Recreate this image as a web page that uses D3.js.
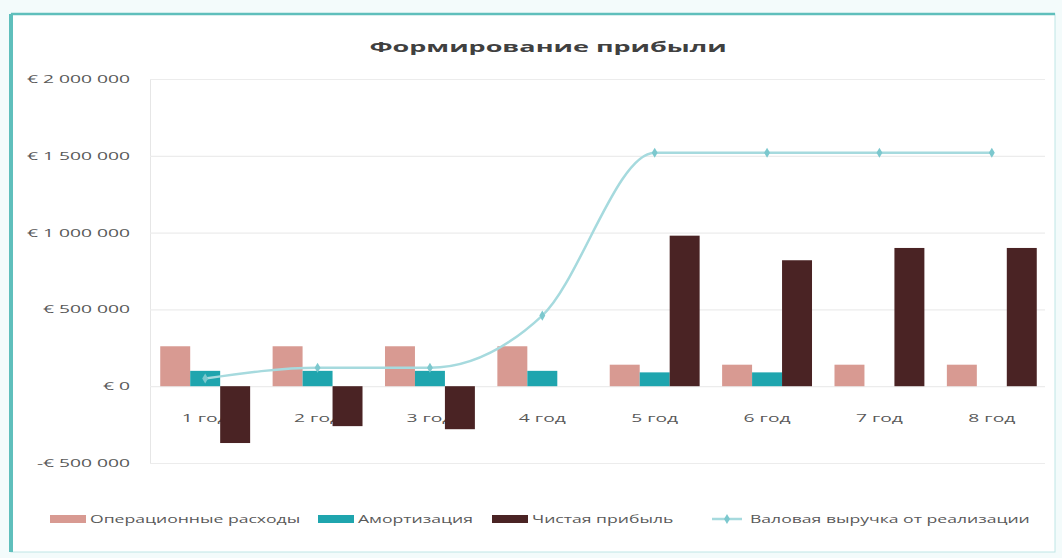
<!DOCTYPE html>
<html>
<head>
<meta charset="utf-8">
<script src="https://cdn.jsdelivr.net/npm/d3@7"></script>
<style>
  html, body { margin: 0; padding: 0; background: #f3fbfb; }
  svg { display: block; }
  text { font-family: "Open Sans", "Liberation Sans", sans-serif; }
</style>
</head>
<body>
<svg id="chart" width="1062" height="558"></svg>
<script>
// Categories and series
const years = ["1 год", "2 год", "3 год", "4 год", "5 год", "6 год", "7 год", "8 год"];
const opex = [260000, 260000, 260000, 260000, 140000, 140000, 140000, 140000];
const amort = [100000, 100000, 100000, 100000, 90000, 90000, 0, 0];
const netProfit = [-370000, -260000, -280000, 0, 980000, 820000, 900000, 900000];
const revenue = [50000, 120000, 120000, 460000, 1520000, 1520000, 1520000, 1520000];
const yTicks = [-500000, 0, 500000, 1000000, 1500000, 2000000];
const barSeries = ["Операционные расходы", "Амортизация", "Чистая прибыль"];
const lineSeries = "Валовая выручка от реализации";
const title = "Формирование прибыли";

const colors = {
  "Операционные расходы": "#d89a92",
  "Амортизация": "#1fa5ae",
  "Чистая прибыль": "#4a2324",
  line: "#a6dade",
  marker: "#7cc8ce"
};

// Text is drawn horizontally widened
const stretchAxis = 1.75, stretchLegend = 1.6, stretchTitle = 1.8;
function widen(sel, s) {
  sel.each(function () {
    const t = d3.select(this);
    const x0 = +(t.attr("x") || 0);
    t.attr("x", x0 / s).attr("transform", `scale(${s},1)`);
  });
}

const svg = d3.select("#chart");

// Chart frame
svg.append("rect").attr("x", 11).attr("y", 14).attr("width", 1044).attr("height", 538)
  .attr("fill", "#ffffff").attr("stroke", "#bfe6e6").attr("stroke-width", 1);
svg.append("line").attr("x1", 11).attr("x2", 1055).attr("y1", 14).attr("y2", 14)
  .attr("stroke", "#5fbfbc").attr("stroke-width", 2.5);
svg.append("line").attr("x1", 11).attr("x2", 11).attr("y1", 14).attr("y2", 552)
  .attr("stroke", "#5fbfbc").attr("stroke-width", 4);

// Scales
const x = d3.scaleBand().domain(years).range([149, 1048]).paddingInner(0.2).paddingOuter(0.1);
const xs = d3.scaleBand().domain(barSeries).range([0, x.bandwidth()]).padding(0);
const y = d3.scaleLinear().domain([-500000, 2000000]).range([463, 79]);

const loc = d3.formatLocale({ decimal: ",", thousands: " ", grouping: [3], currency: ["€ ", ""] });
const fmtNum = loc.format(",.0f");
const fmt = v => (v < 0 ? "-€ " : "€ ") + fmtNum(Math.abs(v));

// Gridlines and y axis labels
const yAxis = d3.axisLeft(y).tickValues(yTicks).tickFormat(fmt).tickSize(-(1045 - 150)).tickPadding(20);
const gy = svg.append("g").attr("transform", "translate(150,0)").call(yAxis);
gy.select(".domain").attr("stroke", "#e6e6e6");
gy.selectAll(".tick line").attr("stroke", "#ececec").attr("stroke-width", 1.2);
gy.selectAll(".tick text").attr("fill", "#595959").attr("font-size", 11).call(widen, stretchAxis);

// Category labels beside the zero line
const xAxis = d3.axisBottom(x).tickSize(0).tickPadding(28);
const gx = svg.append("g").attr("transform", `translate(0,${y(0)})`).call(xAxis);
gx.select(".domain").remove();
gx.selectAll(".tick text").attr("fill", "#595959").attr("font-size", 11).call(widen, stretchAxis);

// Bars
const barData = years.map((yr, i) => ({
  yr,
  vals: [
    { s: barSeries[0], v: opex[i] },
    { s: barSeries[1], v: amort[i] },
    { s: barSeries[2], v: netProfit[i] }
  ]
}));
const groups = svg.append("g").selectAll("g").data(barData).join("g")
  .attr("transform", d => `translate(${x(d.yr)},0)`);
groups.selectAll("rect").data(d => d.vals.filter(e => e.v !== 0)).join("rect")
  .attr("x", d => xs(d.s))
  .attr("width", xs.bandwidth())
  .attr("y", d => y(Math.max(0, d.v)))
  .attr("height", d => Math.abs(y(d.v) - y(0)))
  .attr("fill", d => colors[d.s]);

// Revenue line
const pts = years.map((yr, i) => [x(yr) + x.bandwidth() / 2, y(revenue[i])]);
svg.append("path").datum(pts)
  .attr("d", d3.line().curve(d3.curveMonotoneX))
  .attr("fill", "none").attr("stroke", colors.line).attr("stroke-width", 2.5);
svg.append("g").selectAll("path").data(pts).join("path")
  .attr("transform", d => `translate(${d[0]},${d[1]})`)
  .attr("d", d3.symbol(d3.symbolDiamond, 30))
  .attr("fill", colors.marker);

// Title
svg.append("text").attr("x", 548).attr("y", 52).attr("text-anchor", "middle")
  .attr("font-size", 15).attr("font-weight", "bold").attr("fill", "#404040").text(title)
  .call(widen, stretchTitle);

// Legend
const legendY = 519;
const legendItems = [
  { name: barSeries[0], x: 50, type: "bar" },
  { name: barSeries[1], x: 318, type: "bar" },
  { name: barSeries[2], x: 492, type: "bar" },
  { name: lineSeries, x: 712, type: "line" }
];
const lg = svg.append("g").selectAll("g").data(legendItems).join("g")
  .attr("transform", d => `translate(${d.x},${legendY})`);
lg.filter(d => d.type === "bar").append("rect")
  .attr("x", 0).attr("y", -4).attr("width", 36).attr("height", 8)
  .attr("fill", d => colors[d.name]);
lg.filter(d => d.type === "line").append("line")
  .attr("x1", 0).attr("x2", 30).attr("y1", 0).attr("y2", 0)
  .attr("stroke", colors.line).attr("stroke-width", 2.5);
lg.filter(d => d.type === "line").append("path")
  .attr("transform", "translate(15,0)")
  .attr("d", d3.symbol(d3.symbolDiamond, 30)).attr("fill", colors.marker);
lg.append("text").attr("x", d => d.type === "line" ? 38 : 40).attr("y", 4)
  .attr("font-size", 11).attr("fill", "#595959").text(d => d.name)
  .call(widen, stretchLegend);
</script>
</body>
</html>
